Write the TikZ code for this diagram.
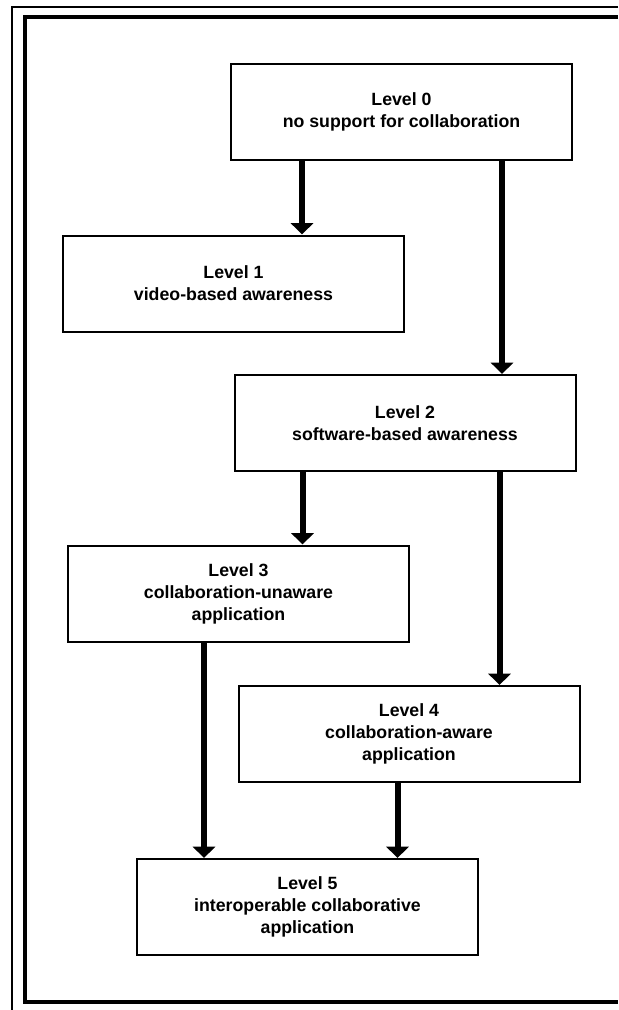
\documentclass[tikz,border=0pt]{standalone}
\usepackage{fontspec}
\setmainfont{Liberation Sans}
\usetikzlibrary{arrows.meta,positioning}
\tikzset{
  level/.style={draw=black,line width=1.5pt,fill=white,minimum width=255.75pt,
    minimum height=72pt,align=center,inner sep=0pt,
    font=\bfseries\fontsize{13.3}{16.5}\selectfont},
  flow/.style={line width=4.5pt,-{Triangle[width=16.5pt,length=8.5pt]}},
  rim/.style={line width=#1},
  rim/.default=1.2pt,
}

\begin{document}
\begin{tikzpicture}[x=0.75pt,y=-0.75pt]
  \useasboundingbox (0,0) rectangle (618,1010);
  % frame
  \draw[rim] (618,7) -- (12,7) -- (12,1010);
  \draw[rim=3pt] (618,17) -- (25,17) -- (25,1002) -- (618,1002);
  % levels
  \node[level] (l0) at (401.5,111.5) {Level 0\\no support for collaboration};
  \node[level] (l1) at (233.5,283.5) {Level 1\\video-based awareness};
  \node[level] (l2) at (405,423) {Level 2\\software-based awareness};
  \node[level] (l3) at (238.5,593.5) {Level 3\\collaboration-unaware\\application};
  \node[level] (l4) at (409,734) {Level 4\\collaboration-aware\\application};
  \node[level] (l5) at (307.5,907) {Level 5\\interoperable collaborative\\application};
  % connectors
  \path (l0.south west) ++(72,0) coordinate (a01) ++(200,0) coordinate (a02);
  \path (l2.south west) ++(69,0) coordinate (a21) ++(197,0) coordinate (a22);
  \path (l3.south west) ++(137,0) coordinate (a31);
  \path (l4.south west) ++(160,0) coordinate (a41);
  \draw[flow] (a01) -- (a01 |- l1.north);
  \draw[flow] (a02) -- (a02 |- l2.north);
  \draw[flow] (a21) -- (a21 |- l3.north);
  \draw[flow] (a22) -- (a22 |- l4.north);
  \draw[flow] (a31) -- (a31 |- l5.north);
  \draw[flow] (a41) -- (a41 |- l5.north);
\end{tikzpicture}
\end{document}
